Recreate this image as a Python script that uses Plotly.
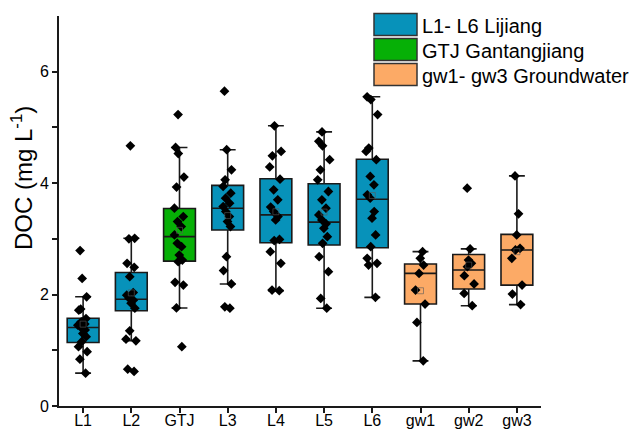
import numpy as np
import plotly.graph_objects as go

# ---------------- data ----------------
categories = ["L1", "L2", "GTJ", "L3", "L4", "L5", "L6", "gw1", "gw2", "gw3"]
groups = ["Lijiang", "Lijiang", "Gantangjiang", "Lijiang", "Lijiang", "Lijiang", "Lijiang",
          "Groundwater", "Groundwater", "Groundwater"]

L1 = [2.79, 2.29, 1.96, 1.74, 1.72, 1.57, 1.51, 1.47, 1.45, 1.41, 1.365, 1.30, 1.245, 1.155, 1.065, 0.975, 0.84, 0.59]
L2 = [4.67, 3.01, 3.00, 2.56, 2.49, 2.32, 2.035, 1.99, 1.935, 1.90, 1.845, 1.755, 1.35, 1.20, 1.17, 0.66, 0.62]
GTJ = [5.23, 4.64, 4.53, 4.11, 3.93, 3.55, 3.40, 3.31, 3.22, 3.07, 2.92, 2.86, 2.71, 2.62, 2.59, 2.22, 2.17, 1.76, 1.065]
L3 = [5.65, 4.60, 4.24, 4.06, 3.94, 3.82, 3.73, 3.64, 3.58, 3.49, 3.40, 3.31, 3.22, 2.68, 2.43, 2.19, 1.78, 1.755]
L4 = [5.03, 4.57, 4.49, 4.29, 4.07, 3.88, 3.70, 3.57, 3.49, 3.40, 3.34, 2.99, 2.97, 2.77, 2.56, 2.08, 2.07]
L5 = [4.92, 4.75, 4.67, 4.42, 4.24, 4.06, 3.85, 3.70, 3.55, 3.43, 3.34, 3.27, 3.19, 3.04, 2.92, 2.68, 2.41, 1.93, 1.755]
L6 = [5.55, 5.50, 5.23, 4.63, 4.57, 4.42, 4.12, 3.97, 3.79, 3.73, 3.49, 3.37, 3.07, 2.86, 2.65, 2.56, 2.53, 1.95]
gw1 = [2.77, 2.65, 2.53, 2.38, 2.08, 1.83, 1.50, 0.81]
gw2 = [3.91, 2.82, 2.62, 2.56, 2.50, 2.34, 2.19, 2.02, 1.80]
gw3 = [4.13, 3.45, 3.07, 2.83, 2.80, 2.65, 2.17, 2.01, 1.82]
samples = [L1, L2, GTJ, L3, L4, L5, L6, gw1, gw2, gw3]

q1 = [1.14, 1.71, 2.60, 3.16, 2.93, 2.89, 2.84, 1.83, 2.10, 2.17]
median = [1.41, 1.915, 3.04, 3.55, 3.43, 3.30, 3.71, 2.38, 2.44, 2.80]
q3 = [1.575, 2.395, 3.545, 3.96, 4.08, 3.99, 4.43, 2.55, 2.72, 3.08]
lowerfence = [0.59, 1.17, 1.76, 2.19, 2.07, 1.755, 1.95, 0.81, 1.80, 1.82]
upperfence = [1.96, 3.01, 4.64, 4.60, 5.03, 4.92, 5.55, 2.77, 2.82, 4.13]

legend_labels = ["L1- L6 Lijiang", "GTJ Gantangjiang", "gw1- gw3 Groundwater"]
legend_groups = ["Lijiang", "Gantangjiang", "Groundwater"]

y_tickvals = [0, 2, 4, 6]

# ---------------- style ----------------
colors = {"Lijiang": "#0792BA", "Gantangjiang": "#06B006", "Groundwater": "#FCAA66"}
FONT = "Liberation Sans, Arial, sans-serif"
EDGE = "#1a1a1a"
W, H = 635, 434
L_M, R_M, T_M, B_M = 59, 94, 16, 28
plot_w = W - L_M - R_M
plot_h = H - T_M - B_M


def px2paper(x, y):
    return (x - L_M) / plot_w, (H - B_M - y) / plot_h


fig = go.Figure()

for i, cat in enumerate(categories):
    col = colors[groups[i]]
    fig.add_trace(go.Box(
        x=[cat], q1=[q1[i]], median=[median[i]], q3=[q3[i]],
        lowerfence=[lowerfence[i]], upperfence=[upperfence[i]],
        fillcolor=col, line=dict(color=EDGE, width=1.6),
        width=0.66, whiskerwidth=0.5, boxpoints=False,
        showlegend=False, hoverinfo="skip",
    ))
    fig.add_trace(go.Box(
        x=[cat] * len(samples[i]), y=samples[i],
        fillcolor="rgba(0,0,0,0)", line=dict(color="rgba(0,0,0,0)", width=0),
        width=0.66, boxpoints="all", jitter=0.45, pointpos=0,
        marker=dict(symbol="diamond", color="black", size=7.5),
        showlegend=False, hoverinfo="skip",
    ))

# mean markers
fig.add_trace(go.Scatter(
    x=categories, y=[float(np.mean(s)) for s in samples], mode="markers",
    marker=dict(symbol="square-open", size=6, color="rgba(90,90,90,0.6)", line=dict(width=1)),
    showlegend=False, hoverinfo="skip",
))

# manual legend
rows_y = [(13.5, 35.5), (38.5, 60.5), (63.5, 85.5)]
for (y0, y1), lab, g in zip(rows_y, legend_labels, legend_groups):
    x0p, y0p = px2paper(374, y1)
    x1p, y1p = px2paper(417, y0)
    fig.add_shape(type="rect", xref="paper", yref="paper", x0=x0p, x1=x1p, y0=y0p, y1=y1p,
                  fillcolor=colors[g], line=dict(color="#333333", width=1.5))
    tx, ty = px2paper(420, (y0 + y1) / 2 + 1)
    fig.add_annotation(xref="paper", yref="paper", x=tx, y=ty, text=lab, showarrow=False,
                       xanchor="left", yanchor="middle", font=dict(family=FONT, size=20, color="black"))

# y title
tx, ty = px2paper(22, 178)
fig.add_annotation(xref="paper", yref="paper", x=tx, y=ty, text="DOC (mg L<sup>-1</sup>)",
                   showarrow=False, textangle=-90, xanchor="center", yanchor="middle",
                   font=dict(family=FONT, size=24, color="black"))

fig.update_layout(
    width=W, height=H,
    margin=dict(l=L_M, r=R_M, t=T_M, b=B_M, autoexpand=False),
    paper_bgcolor="white", plot_bgcolor="white",
    boxmode="overlay", showlegend=False,
    font=dict(family=FONT, size=16, color="black"),
)
fig.update_xaxes(
    range=[-0.5, 9.5], showline=True, linecolor=EDGE, linewidth=1.6,
    ticks="outside", ticklen=5, tickwidth=1.5, tickcolor=EDGE, ticklabelstandoff=-6,
    showgrid=False, zeroline=False, tickfont=dict(size=16), automargin=False,
    categoryorder="array", categoryarray=categories,
)
fig.update_yaxes(
    range=[0, 7], showline=True, linecolor=EDGE, linewidth=1.6,
    ticks="outside", ticklen=5, tickwidth=1.5, tickcolor=EDGE,
    tickvals=y_tickvals, ticktext=[str(v) for v in y_tickvals],
    minor=dict(ticks="outside", ticklen=5, tickwidth=1.5, tickcolor=EDGE, tickvals=[1, 3, 5], showgrid=False),
    showgrid=False, zeroline=False, tickfont=dict(size=16), automargin=False,
)

fig.write_html("out.html")
